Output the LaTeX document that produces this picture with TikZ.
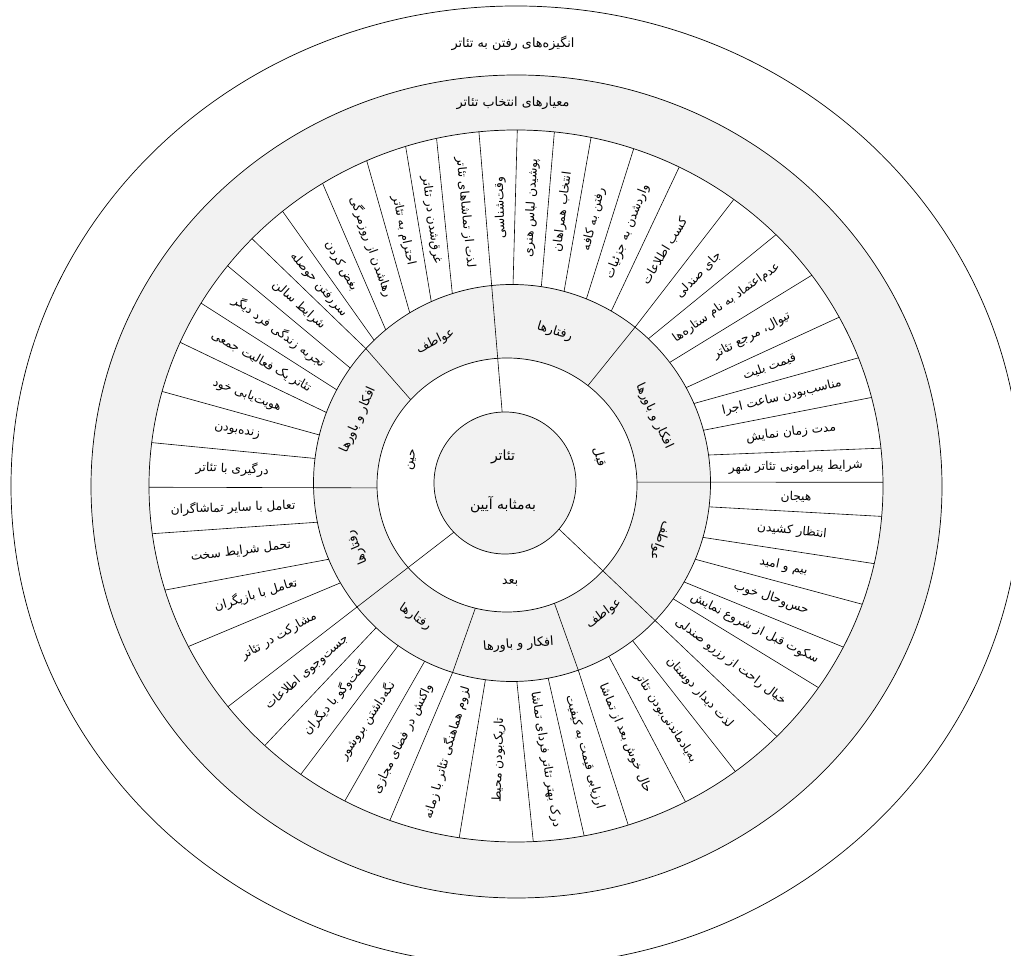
\documentclass[tikz,border=0pt]{standalone}
\usepackage{fontspec}
\newfontfamily\fa[Script=Arabic]{DejaVu Sans}
\TeXXeTstate=1
\usetikzlibrary{calc}
\definecolor{ringgray}{HTML}{F2F2F2}
\tikzset{
  ring/.style={draw=black,line width=0.7pt},
  cut/.style={draw=black,line width=0.6pt},
  cell/.style={font=\fa\fontsize{12.2}{14}\selectfont,inner sep=0pt},
  cat/.style={font=\fa\fontsize{12.6}{14}\selectfont,inner sep=0pt},
  title/.style={font=\fa\fontsize{12.8}{15}\selectfont,inner sep=0pt},
  core/.style={font=\fa\fontsize{14}{16}\selectfont,inner sep=0pt},
}
\begin{document}
\begin{tikzpicture}[x=1pt,y=1pt]
\useasboundingbox (0,0) rectangle (1011,955);
\clip (0,0) rectangle (1011,955);
% rings, from outside in
\draw[ring,fill=white] (516,469) ellipse [x radius=505,y radius=480];
\draw[ring,fill=ringgray] (516.5,468.5) ellipse [x radius=425.5,y radius=411.5];
\draw[ring,fill=white] (516,469) ellipse [x radius=367,y radius=356];
\draw[ring,fill=ringgray] (512,472) circle [radius=198.5];
\draw[ring,fill=white] (507,470) ellipse [x radius=130,y radius=127];
\draw[ring,fill=ringgray] (505,472) circle [radius=71];

% ends of the cell dividers: p on the inner edge, q on the outer edge
\foreach \k/\a/\b in {1/95.4/95.8, 2/89.7/89.8, 3/81.5/84, 4/74.8/78.2, 5/68/71.3,
  6/60/63.6, 7/51.7/53.6, 8/46.6/44.9, 9/37.4/36.3, 10/28.7/28.3, 11/23.6/21.1,
  12/15.4/14.4, 13/8.1/6.1, 14/0.3/0.6, 15/-6.9/-4.9, 16/-15.9/-12.6, 17/-22.6/-19.4,
  18/-29.9/-26.9, 19/-35.7/-34.5, 20/-44.6/-44.7, 21/-52.6/-53.3, 22/-60.8/-62.5,
  23/-70.5/-72.2, 24/-79.5/-79.3, 25/-88.6/-87.3, 26/-97.7/-98.9, 27/-107.4/-110.1,
  28/-116.1/-117.8, 29/-125/-125.9, 30/-133.2/-133.2, 31/-140.6/-141.7,
  32/-149.8/-153.2, 33/-157.4/-163, 34/-168.6/-172.3, 35/-178.8/-179.8,
  36/172.9/173, 37/166/164.6, 38/159.2/156.2, 39/152/149.1, 40/144.6/141.8,
  41/137.4/136, 42/134/129.5, 43/129.5/121.8, 44/121/114, 45/114/107.5,
  46/107.5/102.5, 47/95.4/95.8}{
  \coordinate (p\k) at ({512+198.5*cos(\a)},{472+198.5*sin(\a)});
  \coordinate (q\k) at ({516+367*cos(\b)},{469+356*sin(\b)});
}
\foreach \k in {2,3,4,5,6,7,8,9,10,11,12,13,15,16,17,18,19,21,22,23,24,25,26,27,28,29,30,
  32,33,34,36,37,38,39,40,41,42,43,44,45,46}
  \draw[cut] (p\k) -- (q\k);

% main dividers
\coordinate (m1) at ({505+71*cos(92.3)},{472+71*sin(92.3)});
\coordinate (m20) at ({505+71*cos(-40.5)},{472+71*sin(-40.5)});
\coordinate (m31) at ({505+71*cos(223.9)},{472+71*sin(223.9)});
\coordinate (m14) at ({507+130*cos(1.3)},{470+127*sin(1.3)});
\coordinate (m35) at ({507+130*cos(181.3)},{470+127*sin(181.3)});
\draw[cut] (m1) -- (q1);
\draw[cut] (m20) -- (q20);
\draw[cut] (m31) -- (q31);
\draw[cut] (m14) -- (q14);
\draw[cut] (m35) -- (q35);
% dividers of the grey ring
\coordinate (g7) at ({507+130*cos(51.5)},{470+127*sin(51.5)});
\coordinate (g23) at ({507+130*cos(-68.6)},{470+127*sin(-68.6)});
\coordinate (g27) at ({507+130*cos(255.9)},{470+127*sin(255.9)});
\coordinate (g41) at ({507+130*cos(137.8)},{470+127*sin(137.8)});
\draw[cut] (g7) -- (p7);
\draw[cut] (g23) -- (p23);
\draw[cut] (g27) -- (p27);
\draw[cut] (g41) -- (p41);

% cell labels
\path ($(p1)!.5!(p2)$) -- ($(q1)!.5!(q2)$)
  node[cell,sloped,midway,allow upside down] (n1) {\beginR وقت^^^^200cشناسی\endR};
\foreach \k/\txt in {2/{پوشیدن لباس هنری}, 3/{انتخاب همراهان}, 4/{رفتن به کافه},
  5/{واردشدن به جزئیات}, 6/{کسب اطلاعات}, 7/{جای صندلی},
  8/{عدم^^^^200cاعتماد به نام ستاره^^^^200cها}, 9/{تیوال، مرجع تئاتر}, 10/{قیمت بلیت},
  11/{مناسب^^^^200cبودن ساعت اجرا}, 12/{مدت زمان نمایش}, 13/{شرایط پیرامونی تئاتر شهر},
  14/{هیجان}, 15/{انتظار کشیدن}, 16/{بیم و امید}, 17/{حس^^^^200cوحال خوب},
  18/{سکوت قبل از شروع نمایش}, 19/{خیال راحت از رزرو صندلی}, 20/{لذت دیدار دوستان},
  21/{به^^^^200cیادماندنی^^^^200cبودن تئاتر}, 22/{حال خوش بعد از تماشا},
  23/{ارزیابی قیمت به کیفیت}, 24/{درک بهتر تئاتر فردای تماشا},
  25/{تاریک^^^^200cبودن محیط}, 26/{لزوم هماهنگی تئاتر با زمانه},
  27/{واکنش در فضای مجازی}, 28/{نگه^^^^200cداشتن بروشور}, 29/{گفت^^^^200cوگو با دیگران},
  30/{جست^^^^200cوجوی اطلاعات}, 31/{مشارکت در تئاتر}, 32/{تعامل با بازیگران},
  33/{تحمل شرایط سخت}, 34/{تعامل با سایر تماشاگران}, 35/{درگیری با تئاتر},
  36/{زنده^^^^200cبودن}, 37/{هویت^^^^200cیابی خود}, 38/{تئاتر یک فعالیت جمعی},
  39/{تجربه زندگی فرد دیگر}, 40/{شرایط سالن}, 41/{سررفتن حوصله}, 42/{بغض کردن},
  43/{رهاشدن از روزمرگی}, 44/{احترام به تئاتر}, 45/{غرق^^^^200cشدن در تئاتر},
  46/{لذت از تماشاهای تئاتر}}{
  \pgfmathtruncatemacro\kn{\k+1}
  \path ($(p\k)!.5!(p\kn)$) -- ($(q\k)!.5!(q\kn)$)
    node[cell,sloped,midway] (n\k) {\beginR\txt\endR};
}

% grey ring labels
\foreach \i/\a/\r/\txt in {1/73/-17/{رفتارها}, 2/25.5/-64.5/{افکار و باورها},
  3/-20.4/-110.4/{عواطف}, 4/-53.6/36.4/{عواطف}, 5/-86/4/{افکار و باورها},
  6/-124.3/-34.3/{رفتارها}, 7/203/113/{رفتارها}, 8/156/66/{افکار و باورها},
  9/116/26/{عواطف}}
  \node[cat,rotate=\r] (k\i) at ({507+163*cos(\a)},{470+160*sin(\a)}) {\beginR\txt\endR};

% phases
\node[cat,rotate=-74.7] (before) at ({505+98*cos(15.3)},{472+98*sin(15.3)}) {\beginR قبل\endR};
\node[cat,rotate=76] (during) at ({505+95*cos(166)},{472+95*sin(166)}) {\beginR حین\endR};
\node[cat,rotate=3] (after) at ({505+100*cos(-87)},{472+100*sin(-87)}) {\beginR بعد\endR};

% centre and titles
\node[core] (theatre) at (503,498) {\beginR تئاتر\endR};
\node[core] (ritual) at (503,450) {\beginR به^^^^200cمثابه آیین\endR};
\node[title] (motive) at (513,912) {\beginR انگیزه^^^^200cهای رفتن به تئاتر\endR};
\node[title] (criteria) at (513,852) {\beginR معیارهای انتخاب تئاتر\endR};
\end{tikzpicture}
\end{document}
